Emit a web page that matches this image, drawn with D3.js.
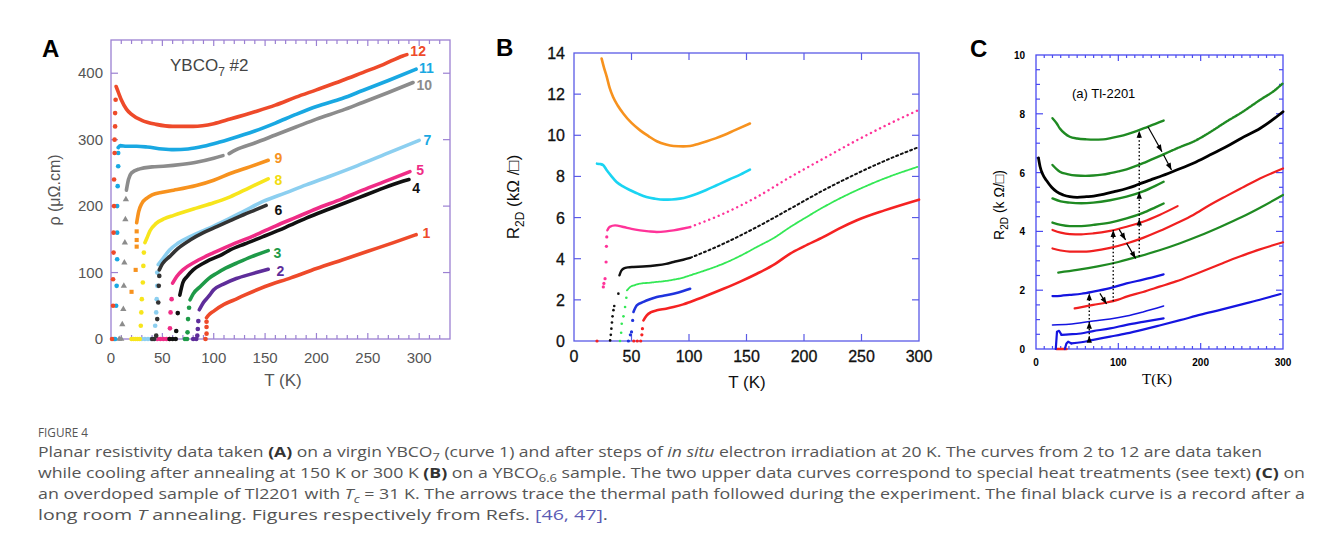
<!DOCTYPE html>
<html lang="en">
<head>
<meta charset="UTF-8">
<title>Figure 4</title>
<script src="https://cdn.jsdelivr.net/npm/d3@7"></script>
<style>
  *{margin:0;padding:0;}
  body{background:#fff;}
  svg{display:block;}
</style>
</head>
<body>
<svg id="fig"></svg>
<script>
// ---------- panel A : YBCO7 #2, rho (T) ----------
const a1 = [[93,32],[95,36],[100,42],[110,52],[120,59],[130,66],[150,79],[175,92],[200,106],[225,119],[250,132],[275,145],[297,157]]
const a1Dots = [[92,0],[93,8],[93,18],[93,26]]
const a2 = [[86,44],[90,55],[95,64],[100,74],[110,83],[122,91],[137,98],[153,105]]
const a2Dots = [[80,0],[83,0],[84,5],[84.5,15],[85,27]]
const a3 = [[77,59],[80,68],[87,79],[95,91],[103,99],[112,107],[122,114],[137,124],[153,133]]
const a3Dots = [[72,0],[74,0],[74.5,10],[75,30],[76,47]]
const a4 = [[67,66],[70,85],[74,94],[80,104],[90,114],[96,119],[108,127],[116,134],[130,143],[148,154],[170,168],[190,182],[213,196],[240,212],[260,224],[281,236],[290,240]]
const a4Dots = [[57,0],[60,0],[63,0],[63.5,12],[65,39]]
const a5 = [[60,84],[64,94],[70,104],[83,117],[100,130],[116,141],[140,156],[160,170],[180,183],[200,196],[225,211],[245,224],[270,239],[291,252]]
const a5Dots = [[45,0],[48,0],[51,0],[54,0],[57,0],[57.4,16],[58,40],[59,60]]
const a6 = [[47,104],[50,113],[57,124],[65,136],[77,149],[90,160],[103,169],[116,178],[129,187],[140,194],[151,201]]
const a6Dots = [[40,0],[42,0],[44,5],[45,30],[46,55],[46.5,80],[47,95]]
const a7 = [[46,112],[50,120],[57,134],[65,144],[77,154],[90,163],[100,170],[116,182],[130,193],[148,207],[170,220],[190,232],[213,245],[240,261],[270,280],[300,299]]
const a7Dots = [[30,0],[33,0],[36,0],[39,0],[42,0],[43,20],[44,40],[44.5,60],[45,80],[45,100]]
const a8 = [[33,145],[35,152],[38,163],[44,174],[52,181],[61,186],[83,197],[100,205],[116,214],[135,228],[153,241]]
const a8Dots = [[20,0],[22,0],[24,0],[26,0],[28,0],[29,20],[29.5,40],[30,60],[31,85],[31.5,110],[32,130]]
const a9 = [[25,175],[27,192],[30,204],[35,212],[40,217],[50,221],[61,224],[83,231],[100,239],[116,249],[135,259],[153,269]]
const a9Dots = [[20,71],[24,104],[25,139],[25,149],[25,162]]
const a10 = [[15,224],[17,240],[20,250],[28,256],[40,259],[51,260],[70,263],[83,266],[100,272],[109,276]]
const a10b = [[115,279],[122,285],[140,295],[160,307],[180,319],[200,331],[225,344],[245,356],[270,371],[294,386]]
const a10Dots = [[8,0],[10,0],[11,22],[12,45],[12.5,80],[13,115],[13.5,145],[14,180],[14.5,210]]
const a11 = [[7,288],[9,291],[15,290],[25,290],[35,289],[50,286],[61,285],[75,286],[90,290],[105,296],[116,301],[140,313],[160,325],[180,338],[200,350],[225,362],[245,374],[270,389],[297,406]]
const a11Dots = [[3,0],[4,0],[5,50],[5.5,80],[6,120],[6,160],[6,200],[6.5,230],[7,260],[7,280]]
const a12 = [[5,380],[7,372],[10,360],[15,346],[20,338],[30,329],[44,323],[60,320],[80,320],[100,324],[116,331],[140,342],[160,352],[180,364],[200,375],[225,389],[245,401],[265,413],[284,426],[288,428]]
const a12Dots = [[1,0],[2,50],[2,90],[2.5,130],[2.5,160],[3,200],[3,240],[3.5,280],[3.5,300],[4,320],[4,340],[4.5,360]]
const aLabels = ['1','2','3','4','5','6','7','8','9','10','11','12']
const aLabelPos = [[307,159],[165,103],[162,130],[297,227],[301,254],[163,194],[308,300],[163,240],[163,272],[305,382],[307,408],[299,433]]
const aXTicks = [0,50,100,150,200,250,300]
const aYTicks = [0,100,200,300,400]

// ---------- panel B : YBCO6.6, R2D (T) ----------
const bOrange = [[24,13.73],[26,13.3],[28.5,12.84],[31,12.3],[34,11.86],[38,11.45],[43,11.05],[50,10.6],[57.5,10.24],[65,9.95],[72,9.71],[80,9.55],[86.5,9.48],[95,9.46],[101,9.48],[108,9.58],[115.6,9.71],[123,9.85],[130,10.0],[140,10.25],[153,10.57]]
const bCyan = [[20,8.62],[23,8.6],[25.5,8.54],[28.5,8.3],[32,8.05],[37,7.73],[43,7.5],[49,7.33],[56,7.15],[63,7.0],[70,6.92],[78,6.87],[85,6.88],[92,6.92],[100,7.03],[107,7.16],[115,7.34],[124,7.57],[135,7.85],[145,8.1],[153,8.33]]
const bPinkDots = [[25.5,2.63],[26,2.8],[27,3.03],[27.9,3.84],[28.2,4.6],[28.5,5.06]]
const bPink = [[29,5.38],[31,5.55],[35.7,5.62],[43,5.54],[50,5.45],[57.5,5.38],[65,5.33],[72,5.3],[80,5.33],[86.5,5.38],[95,5.47],[101,5.54]]
const bPinkHi = [[101,5.54],[130,6.19],[159,7.0],[188,7.97],[217,8.87],[246,9.76],[272,10.5],[298.6,11.2]]
const bBlackDots = [[31.4,0.03],[32,0.3],[32.5,0.6],[33,0.9],[33.5,1.2],[34.3,1.5],[35,1.7],[38.6,2.3]]
const bBlack = [[39.5,3.19],[41,3.4],[43,3.52],[47,3.58],[51.7,3.6],[60,3.62],[72,3.68],[80,3.75],[86.5,3.84],[95,3.95],[101,4.04]]
const bBlackHi = [[101,4.04],[130,4.73],[159,5.54],[188,6.43],[217,7.33],[246,8.14],[272,8.8],[300,9.43]]
const bGreenDots = [[40,0],[41,0.4],[41.5,0.84],[43,1.2],[44.4,1.65],[45.5,2.1]]
const bGreen = [[46,2.46],[49,2.63],[53,2.72],[57.5,2.79],[65,2.83],[72,2.87],[80,2.92],[86.5,2.98],[95,3.08],[101,3.19],[115,3.45],[130,3.76],[145,4.15],[159,4.57],[175,5.05],[188,5.54],[200,5.95],[217,6.51],[230,6.9],[246,7.33],[270,7.9],[298.6,8.46]]
const bBlueDots = [[47.3,0],[49,0.3],[50,0.44],[51,1.0]]
const bBlue = [[51.7,1.41],[54.6,1.73],[60.4,1.9],[66,2.03],[72,2.14],[80,2.22],[86.5,2.3],[95,2.43],[101,2.54]]
const bRedDots = [[20,0],[52,0],[55,0],[58,0],[59,0.3],[59.5,0.6]]
const bRed = [[60.4,1.0],[63.3,1.25],[67,1.4],[72,1.49],[80,1.57],[86.5,1.65],[95,1.78],[101,1.9],[115,2.2],[130,2.54],[145,2.9],[159,3.27],[175,3.75],[188,4.25],[200,4.6],[217,5.06],[230,5.45],[246,5.87],[270,6.35],[300,6.87]]
const bXTicks = [0,50,100,150,200,250,300]
const bYTicks = [0,2,4,6,8,10,12,14]

// ---------- panel C : Tl-2201, R2D (T) ----------
const cG1 = [[20,7.85],[25,7.68],[29,7.5],[35,7.33],[41,7.22],[50,7.16],[61.5,7.13],[70,7.12],[81.7,7.13],[92,7.18],[102,7.24],[112,7.32],[122,7.41],[135,7.55],[145,7.66],[155,7.77]]
const cG2 = [[20,6.26],[25,6.12],[29,6.03],[38,5.95],[49,5.9],[60,5.89],[69.5,5.9],[80,5.93],[90,5.98],[100,6.04],[110,6.11],[120,6.21],[130,6.32],[140,6.44],[155,6.62]]
const cG2Hi = [[155,6.62],[175,6.87],[191,7.05],[210,7.35],[231,7.73],[250,8.05],[272,8.47],[290,8.8],[300,9.04]]
const cBlack = [[3,6.5],[5,6.2],[8,5.95],[13,5.72],[19,5.5],[25,5.35],[33,5.24],[41,5.18],[50,5.16],[61.5,5.18],[70,5.2],[81.7,5.26],[95,5.35],[110,5.46],[120,5.55],[130,5.66],[140,5.76],[150,5.86],[170,6.08],[191,6.32],[210,6.58],[231,6.88],[250,7.18],[272,7.5],[290,7.85],[300,8.07]]
const cG3 = [[20,5.12],[30,5.02],[41,4.98],[55,4.96],[69.5,4.98],[90,5.06],[110,5.18],[130,5.36],[145,5.55],[155,5.69]]
const cG4 = [[20,4.3],[30,4.22],[41,4.18],[55,4.18],[69.5,4.22],[90,4.3],[110,4.44],[130,4.63],[145,4.82],[155,4.95]]
const cR1 = [[20,4.05],[30,3.96],[41,3.91],[55,3.9],[69.5,3.93],[90,4.02],[110,4.16],[130,4.33],[150,4.56],[172,4.86]]
const cR2 = [[20,3.42],[30,3.35],[41,3.31],[55,3.31],[69.5,3.34],[90,3.44],[110,3.59],[130,3.78],[150,4.01],[170,4.27],[191,4.56],[210,4.88],[231,5.2],[250,5.48],[272,5.8],[300,6.14]]
const cG5 = [[27,2.6],[50,2.69],[75,2.81],[100,2.96],[125,3.15],[150,3.36],[175,3.6],[200,3.87],[225,4.17],[250,4.49],[275,4.85],[300,5.24]]
const cB1 = [[20,1.8],[30,1.81],[41,1.84],[55,1.88],[69.5,1.95],[90,2.07],[110,2.23],[130,2.36],[155,2.54]]
const cR3 = [[47,1.38],[60,1.45],[69.5,1.5],[85.7,1.58],[100,1.68],[110,1.78],[130,1.94],[150,2.12],[170,2.3],[191,2.52],[210,2.73],[231,2.97],[250,3.17],[272,3.39],[300,3.63]]
const cB2 = [[20,0.82],[40,0.84],[69.5,0.95],[90,1.02],[110,1.12],[130,1.26],[155,1.46]]
const cB3Rise = [[24,0],[25.5,0.59],[28,0.62],[31,0.48]]
const cB3 = [[31,0.48],[40,0.5],[49,0.51],[69.5,0.61],[90,0.7],[110,0.82],[130,0.92],[155,1.04]]
const cB4Rise = [[35,0],[37,0.19],[39,0.25],[43,0.19]]
const cB4 = [[43,0.19],[55,0.23],[69.5,0.31],[90,0.42],[110,0.53],[130,0.66],[150,0.8],[175,0.98],[200,1.17],[225,1.34],[250,1.52],[275,1.7],[297,1.87]]
const cRedZero = [[25,0],[37,0]]
// thermal path: dotted verticals [T, from, to], heads at listed levels
const cDotted = [[64.7,0.25,1.9],[93.8,1.62,4.05],[125.4,3.15,7.42]]
const cDottedHeads = [[64.7,0.45],[64.7,0.93],[64.7,1.9],[93.8,4.05],[125.4,4.44],[125.4,5.35],[125.4,7.42]]
// solid arrows [T0, R0, T1, R1]
const cArrows = [[77.6,1.89,85.7,1.53],[101,4.07,108.8,3.71],[110,3.6,121,3.08],[136,7.56,153,6.71],[155,6.6,164.6,6.09]]
const cXTicks = [0,100,200,300]
const cYTicks = [0,2,4,6,8,10]

// ---------- caption ----------
const captionTitle = 'FIGURE 4'
const captionRefs = '[46, 47]'
const captionWidths = [1224, 1267, 1267, 570]

const svg = d3.select('#fig').attr('width', 1330).attr('height', 558)
  .attr('font-family', '"Liberation Sans",Arial,sans-serif')

// frame with inward ticks on the four sides
function frame(g, x, y, color, xt, yt) {
  const [x0, x1] = x.range(), [y0, y1] = y.range()
  g.append('rect').attr('x', x0).attr('y', y1).attr('width', x1 - x0).attr('height', y0 - y1)
    .attr('fill', 'none').attr('stroke', color).attr('stroke-width', 1.3)
  xt.forEach(([v, len]) => {
    g.append('line').attr('x1', x(v)).attr('x2', x(v)).attr('y1', y0).attr('y2', y0 - len).attr('stroke', color).attr('stroke-width', 1.2)
    g.append('line').attr('x1', x(v)).attr('x2', x(v)).attr('y1', y1).attr('y2', y1 + len).attr('stroke', color).attr('stroke-width', 1.2)
  })
  yt.forEach(([v, len]) => {
    g.append('line').attr('y1', y(v)).attr('y2', y(v)).attr('x1', x0).attr('x2', x0 + len).attr('stroke', color).attr('stroke-width', 1.2)
    g.append('line').attr('y1', y(v)).attr('y2', y(v)).attr('x1', x1).attr('x2', x1 - len).attr('stroke', color).attr('stroke-width', 1.2)
  })
}

function curve(g, x, y, data, color, w, dash, kind) {
  const line = d3.line().x(d => x(d[0])).y(d => y(d[1])).curve(kind || d3.curveMonotoneX)
  const p = g.append('path').datum(data).attr('d', line).attr('fill', 'none')
    .attr('stroke', color).attr('stroke-width', w).attr('stroke-linecap', 'round').attr('stroke-linejoin', 'round')
  if (dash) p.attr('stroke-dasharray', dash)
  return p
}

function dots(g, x, y, data, color, r, shape) {
  const sym = d3.symbol().type(shape || d3.symbolCircle).size(r * r * 3.2)
  g.selectAll(null).data(data).join('path')
    .attr('transform', d => `translate(${x(d[0])},${y(d[1])})`)
    .attr('d', sym).attr('fill', color)
}

function head(g, px, py, ang, size) {
  const s = size || 7
  g.append('path').attr('d', `M0,0 L${-s},${-s * 0.38} L${-s},${s * 0.38} Z`)
    .attr('transform', `translate(${px},${py}) rotate(${ang})`).attr('fill', '#000')
}

// ================= A =================
const gA = svg.append('g')
const xA = d3.scaleLinear([0, 330], [111, 450])
const yA = d3.scaleLinear([0, 450], [339, 40])
const purple = '#9b80d2'
frame(gA, xA, yA, purple,
  d3.range(10, 330, 10).map(v => [v, v % 50 === 0 ? 6 : 4]),
  [100, 200, 300, 400].map(v => [v, 7]))

const seriesA = [
  [a1, a1Dots, '#ee4a2a'], [a2, a2Dots, '#5e2d9a'], [a3, a3Dots, '#1e9a48'],
  [a5, a5Dots, '#ef2c86'], [a4, a4Dots, '#111'], [a7, a7Dots, '#8ccff0'],
  [a6, a6Dots, '#333'], [a8, a8Dots, '#f7e51c'], [a9, a9Dots, '#f7921e'],
  [a10, a10Dots, '#8c8c8c'], [a11, a11Dots, '#19a8e2'], [a12, a12Dots, '#ee4a2a']
]
seriesA.forEach(([d, dd, c]) => {
  const shape = c === '#8c8c8c' ? d3.symbolTriangle : (c === '#f7921e' ? d3.symbolSquare : d3.symbolCircle)
  dots(gA, xA, yA, dd, c, 2.3, shape)
  curve(gA, xA, yA, d, c, 3.6)
})
curve(gA, xA, yA, a10b, '#8c8c8c', 3.6)

const aColors = ['#ee4a2a', '#5e2d9a', '#1e9a48', '#111', '#ef2c86', '#111', '#19a8e2', '#f2dc10', '#f7921e', '#8c8c8c', '#19a8e2', '#ee4a2a']
gA.selectAll('.clab').data(aLabels).join('text')
  .attr('x', (d, i) => xA(aLabelPos[i][0])).attr('y', (d, i) => yA(aLabelPos[i][1]) + 5)
  .attr('text-anchor', 'middle').attr('font-size', 14).attr('font-weight', 'bold')
  .attr('fill', (d, i) => aColors[i]).text(d => d)

gA.selectAll('.xt').data(aXTicks).join('text')
  .attr('x', d => xA(d)).attr('y', 363).attr('text-anchor', 'middle')
  .attr('font-size', 15).attr('fill', '#555').text(d => d)
gA.selectAll('.yt').data(aYTicks).join('text')
  .attr('x', 103).attr('y', d => yA(d) + 5).attr('text-anchor', 'end')
  .attr('font-size', 15).attr('fill', '#555').text(d => d)
gA.append('text').attr('x', 283).attr('y', 386).attr('text-anchor', 'middle')
  .attr('font-size', 17).attr('fill', '#555').text('T (K)')
gA.append('text').attr('transform', 'translate(60,190) rotate(-90)').attr('text-anchor', 'middle')
  .attr('font-size', 16).attr('fill', '#555').text('ρ (μΩ.cm)')
const yb = gA.append('text').attr('x', 170).attr('y', 71).attr('font-size', 17).attr('fill', '#444')
yb.append('tspan').text('YBCO')
yb.append('tspan').attr('dy', 5).attr('font-size', 12).text('7')
yb.append('tspan').attr('dy', -5).text(' #2')
gA.append('text').attr('x', 42).attr('y', 57).attr('font-size', 24).attr('font-weight', 'bold').text('A')

// ================= B =================
const gB = svg.append('g')
const xB = d3.scaleLinear([0, 300], [574, 919])
const yB = d3.scaleLinear([0, 14], [341, 53])
const blueB = '#5a5ae6'
frame(gB, xB, yB, blueB, [50, 100, 150, 200, 250].map(v => [v, 7]), [2, 4, 6, 8, 10, 12].map(v => [v, 7]))

curve(gB, xB, yB, bOrange, '#f7921e', 2.6)
curve(gB, xB, yB, bCyan, '#1ad4f2', 2.6)
dots(gB, xB, yB, bPinkDots, '#ff3399', 1.6)
curve(gB, xB, yB, bPink, '#ff3399', 2.4)
curve(gB, xB, yB, bPinkHi, '#ff3399', 2.4, '0.1,5')
dots(gB, xB, yB, bBlackDots, '#111', 1.3)
curve(gB, xB, yB, bBlack, '#111', 2.4)
curve(gB, xB, yB, bBlackHi, '#111', 2, '2,3')
dots(gB, xB, yB, bGreenDots, '#33e855', 1.3)
curve(gB, xB, yB, bGreen, '#33e855', 1.8, '2,1')
dots(gB, xB, yB, bBlueDots, '#1f33dd', 1.6)
curve(gB, xB, yB, bBlue, '#1f33dd', 2.6)
dots(gB, xB, yB, bRedDots, '#f52222', 1.6)
curve(gB, xB, yB, bRed, '#f52222', 2.6)

gB.selectAll('.xt').data(bXTicks).join('text')
  .attr('x', d => xB(d)).attr('y', 362).attr('text-anchor', 'middle')
  .attr('font-size', 16).attr('fill', '#111').attr('stroke', '#111').attr('stroke-width', 0.3).text(d => d)
gB.selectAll('.yt').data(bYTicks).join('text')
  .attr('x', 565).attr('y', d => yB(d) + 6).attr('text-anchor', 'end')
  .attr('font-size', 16).attr('fill', '#111').attr('stroke', '#111').attr('stroke-width', 0.3).text(d => d)
gB.append('text').attr('x', 747).attr('y', 388).attr('text-anchor', 'middle')
  .attr('font-size', 17).attr('fill', '#111').text('T (K)')
const ylB = gB.append('text').attr('transform', 'translate(519,197) rotate(-90)').attr('text-anchor', 'middle')
  .attr('font-size', 17).attr('fill', '#111')
ylB.append('tspan').text('R')
ylB.append('tspan').attr('dy', 5).attr('font-size', 12).text('2D')
ylB.append('tspan').attr('dy', -5).text(' (kΩ /□)')
gB.append('text').attr('x', 496).attr('y', 56).attr('font-size', 24).attr('font-weight', 'bold').text('B')

// ================= C =================
const gC = svg.append('g')
const xC = d3.scaleLinear([0, 300], [1036, 1283])
const yC = d3.scaleLinear([0, 10], [349, 55])
const blueC = '#4a4af0'
frame(gC, xC, yC, blueC,
  d3.range(10, 300, 10).map(v => [v, v % 100 === 0 ? 6 : 3]),
  d3.range(0.5, 10, 0.5).map(v => [v, v % 2 === 0 ? 7 : 4]))

const green = '#1f8a22', red = '#f02020', blue = '#1515e0'
curve(gC, xC, yC, cRedZero, red, 2.6, null, d3.curveLinear)
curve(gC, xC, yC, cG1, green, 2.4)
curve(gC, xC, yC, cG2, green, 2.4)
curve(gC, xC, yC, cG2Hi, green, 2.4, '1.6,1.2')
curve(gC, xC, yC, cBlack, '#000', 2.8)
curve(gC, xC, yC, cG3, green, 2.4)
curve(gC, xC, yC, cG4, green, 2.4)
curve(gC, xC, yC, cR1, red, 2.2)
curve(gC, xC, yC, cR2, red, 2.2)
curve(gC, xC, yC, cG5, green, 2.2)
curve(gC, xC, yC, cB1, blue, 2.2)
curve(gC, xC, yC, cR3, red, 2.2)
curve(gC, xC, yC, cB2, blue, 1.5)
curve(gC, xC, yC, cB3Rise, blue, 2.2, null, d3.curveLinear)
curve(gC, xC, yC, cB3, blue, 2.2)
curve(gC, xC, yC, cB4Rise, blue, 2.2, null, d3.curveLinear)
curve(gC, xC, yC, cB4, blue, 2.2)

cDotted.forEach(([t, r0, r1]) => {
  gC.append('line').attr('x1', xC(t)).attr('x2', xC(t)).attr('y1', yC(r0)).attr('y2', yC(r1))
    .attr('stroke', '#000').attr('stroke-width', 1.4).attr('stroke-dasharray', '1.5,2.2')
})
cDottedHeads.forEach(([t, r]) => head(gC, xC(t), yC(r), -90, 7))
cArrows.forEach(([t0, r0, t1, r1]) => {
  gC.append('line').attr('x1', xC(t0)).attr('y1', yC(r0)).attr('x2', xC(t1)).attr('y2', yC(r1))
    .attr('stroke', '#000').attr('stroke-width', 1.2)
  const ang = Math.atan2(yC(r1) - yC(r0), xC(t1) - xC(t0)) * 180 / Math.PI
  head(gC, xC(t1), yC(r1), ang, 7)
})

gC.selectAll('.xt').data(cXTicks).join('text')
  .attr('x', d => xC(d)).attr('y', 366).attr('text-anchor', 'middle')
  .attr('font-size', 10).attr('font-weight', 'bold').text(d => d)
gC.selectAll('.yt').data(cYTicks).join('text')
  .attr('x', 1025).attr('y', d => yC(d) + 4).attr('text-anchor', 'end')
  .attr('font-size', 10).attr('font-weight', 'bold').text(d => d)
gC.append('text').attr('x', 1157).attr('y', 384).attr('text-anchor', 'middle')
  .attr('font-family', '"Liberation Serif","Times New Roman",serif').attr('font-size', 15).text('T(K)')
const ylC = gC.append('text').attr('transform', 'translate(1004,205) rotate(-90)').attr('text-anchor', 'middle')
  .attr('font-size', 14)
ylC.append('tspan').text('R')
ylC.append('tspan').attr('dy', 4).attr('font-size', 10).text('2D')
ylC.append('tspan').attr('dy', -4).text(' (k Ω/□)')
gC.append('text').attr('x', 1072).attr('y', 98).attr('font-size', 13).text('(a) Tl-2201')
gC.append('text').attr('x', 970).attr('y', 57).attr('font-size', 24).attr('font-weight', 'bold').text('C')

// ================= caption =================
const cap = svg.append('g').attr('font-family', '"Open Sans",sans-serif')
cap.append('text').attr('x', 38).attr('y', 437)
  .attr('font-size', 12).attr('fill', '#555').attr('textLength', 50).attr('lengthAdjust', 'spacingAndGlyphs').text(captionTitle)

const lines = [
  [['Planar resistivity data taken '], ['(A)', 'b'], [' on a virgin YBCO'], ['7', 'sub'], [' (curve 1) and after steps of '], ['in situ', 'i'], [' electron irradiation at 20 K. The curves from 2 to 12 are data taken']],
  [['while cooling after annealing at 150 K or 300 K '], ['(B)', 'b'], [' on a YBCO'], ['6.6', 'sub'], [' sample. The two upper data curves correspond to special heat treatments (see text) '], ['(C)', 'b'], [' on']],
  [['an overdoped sample of Tl2201 with '], ['T', 'i'], ['c', 'isub'], [' = 31 K. The arrows trace the thermal path followed during the experiment. The final black curve is a record after a']],
  [['long room '], ['T', 'i'], [' annealing. Figures respectively from Refs. '], [captionRefs, 'ref'], ['.']]
]
lines.forEach((parts, i) => {
  const t = cap.append('text').attr('x', 38).attr('y', 457 + i * 21)
    .attr('font-size', 15).attr('fill', '#555')
    .attr('textLength', captionWidths[i]).attr('lengthAdjust', 'spacingAndGlyphs')
  let shifted = false
  parts.forEach(([s, k]) => {
    const sp = t.append('tspan').text(s)
    if (k === 'b') sp.attr('font-weight', 'bold').attr('fill', '#333')
    if (k === 'i') sp.attr('font-style', 'italic')
    if (k === 'sub' || k === 'isub') { sp.attr('dy', 4).attr('font-size', 11); shifted = true; if (k === 'isub') sp.attr('font-style', 'italic') }
    else if (shifted) { sp.attr('dy', -4); shifted = false }
    if (k === 'ref') sp.attr('fill', '#5b5bb5')
  })
})
</script>
</body>
</html>
